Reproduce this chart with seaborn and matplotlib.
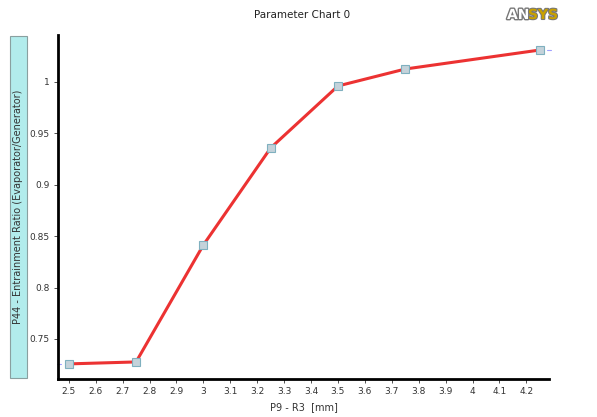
import matplotlib
matplotlib.use("Agg")
import matplotlib.pyplot as plt
import matplotlib.patheffects as pe
import seaborn as sns
import pandas as pd
from matplotlib.patches import Rectangle

x_vals = [2.5, 2.75, 3.0, 3.25, 3.5, 3.75, 4.25]
y_vals = [0.7257, 0.7276, 0.8414, 0.9358, 0.9961, 1.0126, 1.0311]
x_ticks = [2.5, 2.6, 2.7, 2.8, 2.9, 3.0, 3.1, 3.2, 3.3, 3.4, 3.5, 3.6, 3.7, 3.8, 3.9, 4.0, 4.1, 4.2]
y_ticks = [0.75, 0.8, 0.85, 0.9, 0.95, 1.0]
title = "Parameter Chart 0"
x_label = "P9 - R3  [mm]"
y_label = "P44 - Entrainment Ratio (Evaporator/Generator)"

sns.set_theme(style="white")
plt.rcParams['font.family'] = ['DejaVu Sans']

df = pd.DataFrame({"x": x_vals, "y": y_vals})

fig = plt.figure(figsize=(5.97, 4.17), dpi=100)
W, H = 597, 417
ax = fig.add_axes([58 / W, 1 - 379 / H, (549 - 58) / W, (379 - 35) / H])

sns.lineplot(data=df, x="x", y="y", ax=ax, color="#ec3232", linewidth=2.2,
             marker="s", markersize=5.5, markerfacecolor="#c4d2da",
             markeredgecolor="#7fb0bf", markeredgewidth=0.8)

ax.set_xlim(2.46, 4.284)
ax.set_ylim(0.711, 1.0457)
ax.set_xticks(x_ticks)
ax.set_xticklabels([f"{t:g}" for t in x_ticks])
ax.set_yticks(y_ticks)
ax.set_yticklabels([f"{t:g}" for t in y_ticks])
ax.tick_params(axis="both", labelsize=6.5, colors="#333333", length=3, width=0.6,
               direction="out", bottom=True, left=True, pad=3)
for s in ["top", "right"]:
    ax.spines[s].set_visible(False)
for s in ["left", "bottom"]:
    ax.spines[s].set_color("black")
    ax.spines[s].set_linewidth(2)
ax.set_xlabel(x_label, fontsize=7, color="#333333", labelpad=4)
ax.set_ylabel("")
ax.grid(False)

# small dashed extensions
ax.plot([4.275, 4.29], [1.0311, 1.0311], color="#a0a0ff", lw=0.8, clip_on=False)
ax.plot([2.455, 2.47], [0.7257, 0.7257], color="#a0a0ff", lw=0.8, clip_on=False)

fig.text(302 / W, 1 - 15 / H, title, ha="center", va="center", fontsize=7.5, color="#222222")

# y-label box
box = Rectangle((10 / W, 1 - 378 / H), 17 / W, 342 / H, transform=fig.transFigure,
                facecolor="#b2ecec", edgecolor="#8aa0a0", linewidth=0.8)
fig.patches.append(box)
fig.text(18.5 / W, 1 - 207 / H, y_label, rotation=90, ha="center", va="center",
         fontsize=7, color="#333333")

# ANSYS logo
fig.text(507 / W, 1 - 15 / H, "AN", ha="left", va="center", fontsize=10, fontweight="bold",
         color="white", path_effects=[pe.withStroke(linewidth=2, foreground="#777777")])
fig.text(528 / W, 1 - 15 / H, "SYS", ha="left", va="center", fontsize=10, fontweight="bold",
         color="#c9a100", path_effects=[pe.withStroke(linewidth=1.5, foreground="#777777")])

fig.savefig("out.png", dpi=100)
